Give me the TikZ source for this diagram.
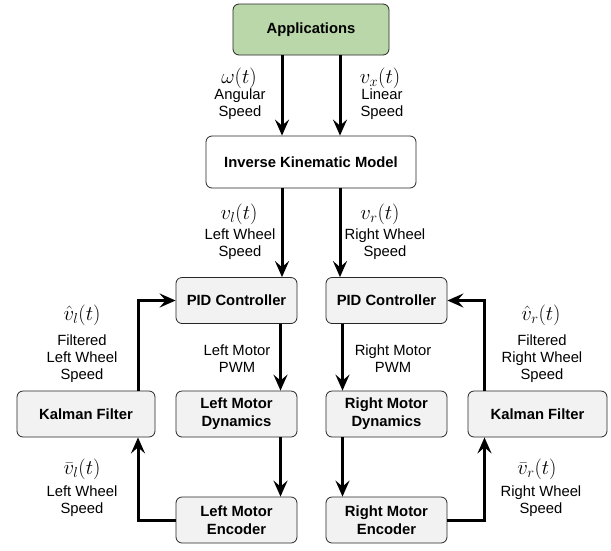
\documentclass[tikz,border=0pt]{standalone}
\usepackage{fontspec}
\setmainfont{Liberation Sans}
\usetikzlibrary{arrows.meta}
\definecolor{appgreen}{RGB}{185,215,168}
\definecolor{boxgray}{RGB}{242,242,242}
\begin{document}
\begin{tikzpicture}[x=1pt, y=-1pt, block/.style={draw=black!85, line width=0.8pt, rounded corners=6pt, fill=boxgray, align=center, font=\bfseries\fontsize{14.8}{18}\selectfont, minimum width=121pt, minimum height=46pt}, arrow/.style={-{Stealth[length=16pt, width=14pt, inset=6pt]}, line width=3pt}, lbl/.style={align=center, font=\fontsize{14.8}{17}\selectfont}, sym/.style={font=\fontsize{20}{24}\selectfont}]
\useasboundingbox (0,0) rectangle (611,550);
\node[block, fill=appgreen, minimum width=156pt, minimum height=51pt] (app) at (311,29.5) {Applications};
\node[block, fill=white, minimum width=210pt, minimum height=52pt] (ikm) at (311,162) {Inverse Kinematic Model};
\node[block] (pidl) at (236.5,300.5) {PID Controller};
\node[block] (dynl) at (236.5,414) {Left Motor\\Dynamics};
\node[block] (encl) at (236.5,520) {Left Motor\\Encoder};
\node[block, minimum width=138pt] (kall) at (86,414) {Kalman Filter};
\node[block] (pidr) at (386.5,300.5) {PID Controller};
\node[block] (dynr) at (386.5,414) {Right Motor\\Dynamics};
\node[block] (encr) at (386.5,520) {Right Motor\\Encoder};
\node[block, minimum width=139pt] (kalr) at (537.5,414) {Kalman Filter};
\draw[arrow] ([xshift=-29pt]app.south) -- ([xshift=-29pt]ikm.north);\draw[arrow] ([xshift=29pt]app.south) -- ([xshift=29pt]ikm.north);
\draw[arrow] ([xshift=-29pt]ikm.south) -- ([xshift=-29pt]ikm.south |- pidl.north);\draw[arrow] ([xshift=29pt]ikm.south) -- ([xshift=29pt]ikm.south |- pidr.north);
\draw[arrow] ([xshift=44pt]pidl.south) -- ([xshift=44pt]dynl.north);\draw[arrow] ([xshift=44pt]dynl.south) -- ([xshift=44pt]encl.north);
\draw[arrow] ([xshift=-44pt]pidr.south) -- ([xshift=-44pt]dynr.north);\draw[arrow] ([xshift=-44pt]dynr.south) -- ([xshift=-44pt]encr.north);
\draw[arrow] (encl.west) -| ([xshift=52pt]kall.south);\draw[arrow] ([xshift=52pt]kall.north) |- (pidl.west);
\draw[arrow] (encr.east) -| ([xshift=-53pt]kalr.south);\draw[arrow] ([xshift=-53pt]kalr.north) |- (pidr.east);
\node[sym] (omega) at (239,78) {$\omega(t)$};\node[lbl] (angular) at (240,104.5) {Angular\\Speed};
\node[sym] (vx) at (380,78) {$v_x(t)$};\node[lbl] (linear) at (382,104.5) {Linear\\Speed};
\node[sym] (vl) at (239,214) {$v_l(t)$};\node[lbl] (wheell) at (240,244.5) {Left Wheel\\Speed};
\node[sym] (vr) at (380,214) {$v_r(t)$};\node[lbl] (wheelr) at (385,244.5) {Right Wheel\\Speed};
\node[lbl] (pwml) at (237,358.5) {Left Motor\\PWM};\node[lbl] (pwmr) at (393,358.5) {Right Motor\\PWM};
\node[sym] (vhatl) at (82,315) {$\hat{v}_l(t)$};\node[lbl] (filtl) at (82,358.5) {Filtered\\Left Wheel\\Speed};
\node[sym] (vbarl) at (82,469) {$\bar{v}_l(t)$};\node[lbl] (measl) at (82,501) {Left Wheel\\Speed};
\node[sym] (vhatr) at (541,315) {$\hat{v}_r(t)$};\node[lbl] (filtr) at (542,358.5) {Filtered\\Right Wheel\\Speed};
\node[sym] (vbarr) at (537,469) {$\bar{v}_r(t)$};\node[lbl] (measr) at (541,501) {Right Wheel\\Speed};
\end{tikzpicture}
\end{document}
